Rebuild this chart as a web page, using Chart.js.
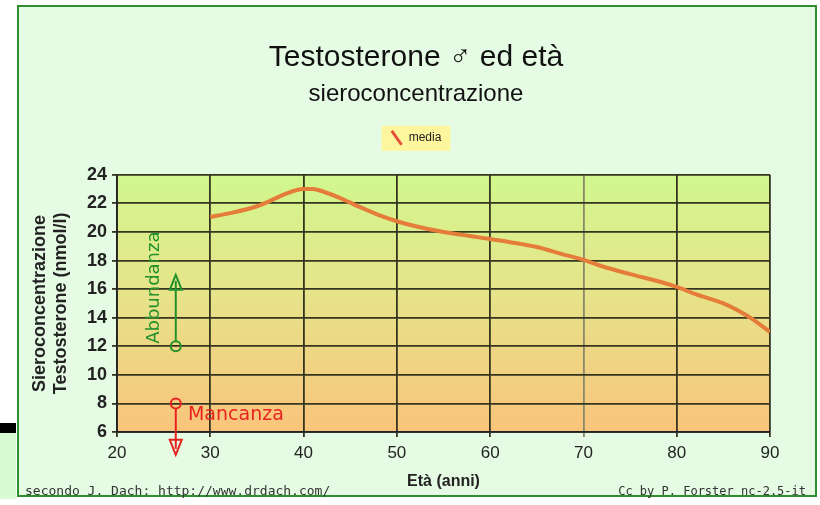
<!DOCTYPE html>
<html>
<head>
<meta charset="utf-8">
<script src="https://cdn.jsdelivr.net/npm/chart.js@4.4.0/dist/chart.umd.min.js"></script>
<style>
  body { margin: 0; background: #fff; }
  #box { position: absolute; left: 17px; top: 5px; width: 796px; height: 488px; border: 2px solid #2f8f2f; background: #e6fbe4; }
  #bar { position: absolute; left: 0; top: 423px; width: 16px; height: 10px; background: #000; }
  #strip { position: absolute; left: 0; top: 433px; width: 16px; height: 66px; background: #d8fbd4; }
  #wrap { position: absolute; left: 0; top: 0; width: 820px; height: 505px; }
</style>
</head>
<body>
<div id="box"></div>
<div id="bar"></div>
<div id="strip"></div>
<div id="wrap"><canvas id="testoChart"></canvas></div>
<script>
// eta (anni) e testosterone medio (nmol/l)
const eta = [30, 32, 35, 37, 38, 40, 41, 42, 44, 45, 46, 48, 50, 52, 55, 58, 60, 62, 65, 68, 70, 72, 75, 78, 80, 82, 85, 87, 88, 90];
const media = [21.05, 21.3, 21.8, 22.35, 22.65, 23.0, 23.0, 22.85, 22.35, 22.05, 21.75, 21.2, 20.75, 20.4, 20.0, 19.7, 19.5, 19.3, 18.95, 18.4, 18.05, 17.6, 17.05, 16.55, 16.15, 15.65, 15.0, 14.35, 13.95, 13.0];

const xTicks = [20, 30, 40, 50, 60, 70, 80, 90];
const yTicks = [6, 8, 10, 12, 14, 16, 18, 20, 22, 24];

// frecce: eta, valore di partenza, punta
const abbondanza = { x: 26.3, from: 12, to: 17.0, label: "Abbundanza", labelY: 16.1 };
const mancanza = { x: 26.3, from: 8, to: 4.4, label: "Mancanza", labelX: 27.5, labelY: 7.2 };

const ctx = document.getElementById("testoChart");

// sfondo sfumato verde -> arancio nell'area del grafico
const sfondo = {
  id: "sfondo",
  beforeDraw(chart) {
    const { ctx, chartArea: a } = chart;
    const g = ctx.createLinearGradient(0, a.top, 0, a.bottom);
    g.addColorStop(0, "#d1f78e");
    g.addColorStop(0.45, "#e6e48a");
    g.addColorStop(1, "#f9c47b");
    ctx.save();
    ctx.fillStyle = g;
    ctx.fillRect(a.left, a.top, a.right - a.left, a.bottom - a.top);
    // riquadro giallo della legenda
    const lg = chart.legend;
    if (lg && lg.legendHitBoxes.length) {
      const h = lg.legendHitBoxes[0];
      ctx.fillStyle = "#fdf69c";
      ctx.fillRect(h.left - 9, h.top - 6, h.width + 18, h.height + 13);
    }
    ctx.restore();
  }
};

function freccia(c, x, y0, y1, col, su) {
  c.strokeStyle = col;
  c.lineWidth = 2;
  const dir = su ? 1 : -1;
  c.beginPath();
  c.moveTo(x, y0 - 5 * dir);
  c.lineTo(x, y1 + 6 * dir);
  c.stroke();
  c.beginPath();
  c.arc(x, y0, 5, 0, Math.PI * 2);
  c.stroke();
  c.beginPath();
  c.moveTo(x, y1);
  c.lineTo(x - 6, y1 + 15 * dir);
  c.lineTo(x + 6, y1 + 15 * dir);
  c.closePath();
  c.stroke();
}

const frecce = {
  id: "frecce",
  afterDraw(chart) {
    const c = chart.ctx;
    const xs = chart.scales.x, ys = chart.scales.y;
    c.save();
    const xa = xs.getPixelForValue(abbondanza.x);
    freccia(c, xa, ys.getPixelForValue(abbondanza.from), ys.getPixelForValue(abbondanza.to), "#23912a", true);
    c.fillStyle = "#23912a";
    c.font = "18px 'DejaVu Sans'";
    c.textAlign = "center";
    c.textBaseline = "middle";
    c.translate(xa - 21, ys.getPixelForValue(abbondanza.labelY));
    c.rotate(-Math.PI / 2);
    c.fillText(abbondanza.label, 0, 0);
    c.restore();

    c.save();
    const xm = xs.getPixelForValue(mancanza.x);
    freccia(c, xm, ys.getPixelForValue(mancanza.from), ys.getPixelForValue(mancanza.to), "#e8231f", false);
    c.fillStyle = "#e8231f";
    c.font = "19px 'DejaVu Sans'";
    c.textAlign = "left";
    c.textBaseline = "middle";
    c.fillText(mancanza.label, xs.getPixelForValue(mancanza.labelX) + 1, ys.getPixelForValue(mancanza.labelY));
    c.restore();

    // note a piè di pagina
    c.save();
    c.fillStyle = "#333";
    c.textBaseline = "middle";
    c.textAlign = "left";
    c.font = "13px 'DejaVu Sans Mono'";
    c.fillText("secondo J. Dach: http://www.drdach.com/", 25, 492);
    c.textAlign = "right";
    c.font = "12px 'DejaVu Sans Mono'";
    c.fillText("Cc by P. Forster nc-2.5-it", 806, 492);
    c.restore();
  }
};

// assi vuoti che servono solo a fare spazio (sopra e a destra)
const spazio = (lato, misura) => ({
  type: "linear",
  position: lato,
  display: true,
  grid: { display: false },
  border: { display: false },
  ticks: { display: false },
  afterFit(s) { if (lato === "top") s.height = misura; else s.width = misura; }
});

new Chart(ctx, {
  type: "line",
  data: {
    datasets: [{
      label: "media",
      data: eta.map((e, i) => ({ x: e, y: media[i] })),
      borderColor: "#e57c3a",
      backgroundColor: "#e0503a",
      borderWidth: 4,
      pointRadius: 0,
      pointStyle: "line",
      pointRotation: 55,
      pointBorderColor: "#e0503a",
      pointBorderWidth: 3,
      tension: 0.4,
      cubicInterpolationMode: "monotone"
    }]
  },
  options: {
    responsive: true,
    maintainAspectRatio: false,
    animation: false,
    layout: { padding: { top: 10, right: 16, left: 28, bottom: 8 } },
    plugins: {
      title: {
        display: true,
        text: "Testosterone \u2642 ed età",
        color: "#111",
        font: { family: "'Liberation Sans', Arial", size: 30, weight: "normal" },
        padding: { top: 30, bottom: 4 }
      },
      subtitle: {
        display: true,
        text: "sieroconcentrazione",
        color: "#111",
        font: { family: "'Liberation Sans', Arial", size: 24 },
        padding: { top: 0, bottom: 13 }
      },
      legend: {
        display: true,
        position: "top",
        labels: {
          usePointStyle: true,
          boxWidth: 12,
          boxHeight: 12,
          color: "#222",
          font: { family: "'Liberation Sans', Arial", size: 12 },
          padding: 10
        }
      },
      tooltip: { enabled: false }
    },
    scales: {
      x: {
        type: "linear",
        min: 20,
        max: 90,
        afterBuildTicks(s) { s.ticks = xTicks.map(v => ({ value: v })); },
        ticks: { color: "#222", font: { family: "'Liberation Sans', Arial", size: 17 }, padding: 6 },
        grid: {
          color: c => (c.tick && c.tick.value === 70 ? "#8a8a6a" : "#35351f"),
          lineWidth: 1.8,
          tickLength: 5
        },
        border: { color: "#222", width: 1.8 },
        title: {
          display: true,
          text: "Età (anni)",
          color: "#222",
          font: { family: "'Liberation Sans', Arial", size: 16, weight: "bold" },
          padding: { top: 4, bottom: 6 }
        },
        afterFit(s) { s.height = 65; }
      },
      x2: spazio("top", 21),
      y: {
        min: 6,
        max: 24,
        afterBuildTicks(s) { s.ticks = yTicks.map(v => ({ value: v })); },
        ticks: { color: "#222", font: { family: "'Liberation Sans', Arial", size: 18, weight: "bold" }, padding: 5 },
        grid: { color: "#35351f", lineWidth: 1.8, tickLength: 5 },
        border: { color: "#222", width: 1.8 },
        title: {
          display: true,
          text: ["Sieroconcentrazione", "Testosterone (nmol/l)"],
          color: "#222",
          font: { family: "'Liberation Sans', Arial", size: 18, weight: "bold" },
          padding: { top: 1, bottom: 4 }
        },
        afterFit(s) { s.width = 89; }
      },
      y2: spazio("right", 34)
    }
  },
  plugins: [sfondo, frecce]
});
</script>
</body>
</html>
